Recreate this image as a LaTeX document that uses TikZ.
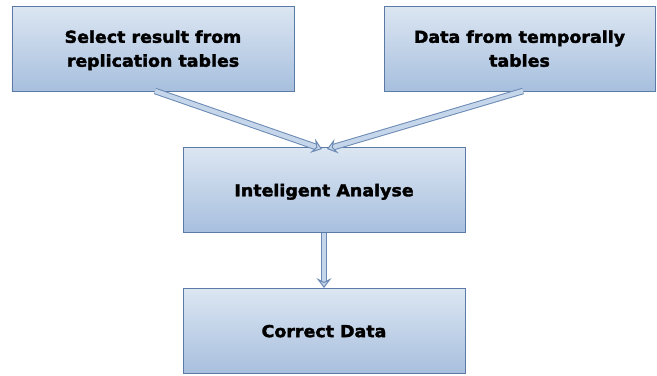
\documentclass[tikz,border=0pt]{standalone}
\usepackage{fontspec}
\setmainfont{DejaVu Sans}
\newfontfamily\boxfont[FakeStretch=1.06, FakeBold=2.2]{DejaVu Sans Bold}
\usetikzlibrary{arrows.meta}
\definecolor{boxtop}{HTML}{DCE6F2}
\definecolor{boxbot}{HTML}{A7BFDE}
\definecolor{boxline}{HTML}{5B7BA6}
\definecolor{arrfill}{HTML}{C6D6EA}
\definecolor{arrline}{HTML}{6A89B4}
\tikzset{
  flowbox/.style={draw=boxline, line width=1pt, top color=boxtop, bottom color=boxbot,
    minimum width=282bp, minimum height=85bp, align=center, inner sep=0pt,
    text depth=0pt, font=\boxfont\fontsize{16.5}{24}\selectfont},
  blockarrow/.style={draw=arrline, line width=1pt, double=arrfill, double distance=4.5pt,
    -{Stealth[length=10bp, width=15bp, inset=4bp, open, fill=arrfill, line width=1pt]}},
}
\begin{document}
\begin{tikzpicture}[x=1bp, y=-1bp]
\useasboundingbox (0,0) rectangle (657,375);
\node[flowbox] (sel) at (153,48.5) {Select result from\\replication tables};
\node[flowbox, minimum width=271bp] (tmp) at (519.5,48.5) {Data from temporally\\tables};
\node[flowbox] (ana) at (324,190) {Inteligent Analyse};
\node[flowbox] (cor) at (324,331) {Correct Data};
\coordinate (s1) at (155,91);
\coordinate (e1) at (322,149);
\coordinate (s2) at (523,91);
\coordinate (e2) at (327,149);
\draw[blockarrow] (s1) -- (e1);
\draw[blockarrow] (s2) -- (e2);
\draw[blockarrow] (ana.south) -- (cor.north);
\end{tikzpicture}
\end{document}
